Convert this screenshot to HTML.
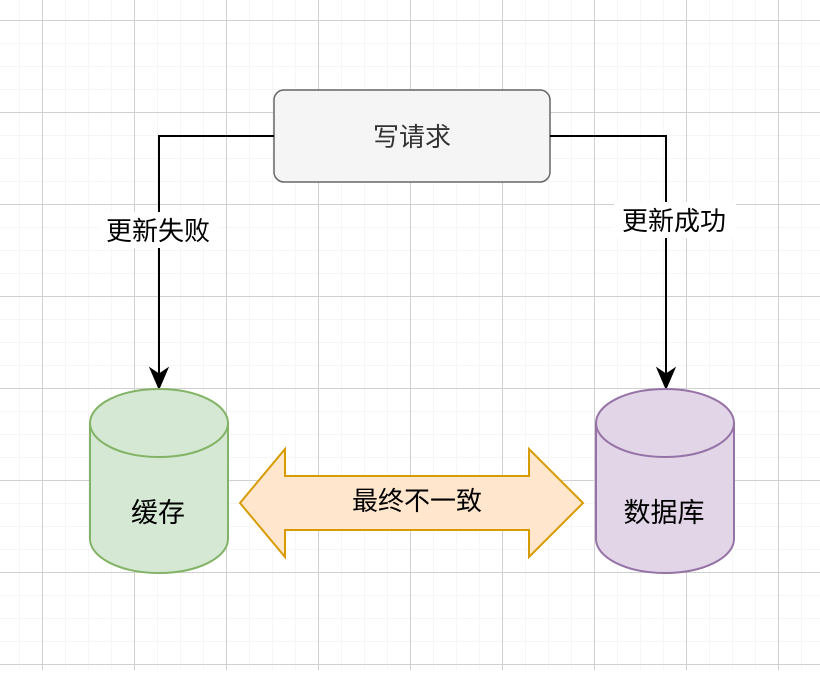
<!DOCTYPE html>
<html><head><meta charset="utf-8"><style>
html,body{margin:0;padding:0;background:#fff}
svg text{font-family:"Liberation Sans","Noto Sans CJK SC",sans-serif;}
</style></head><body>
<svg width="820" height="670" xmlns="http://www.w3.org/2000/svg">
<defs>
<pattern id="minor" x="19" y="20" width="23" height="23" patternUnits="userSpaceOnUse">
<path d="M0 0H23M0 0V23" stroke="#ececec" stroke-width="1" fill="none"/>
</pattern>
<pattern id="major" x="42" y="20" width="92" height="92" patternUnits="userSpaceOnUse">
<path d="M0 0.5H92M0.5 0V92" stroke="#d0d0d0" stroke-width="1" fill="none"/>
</pattern>
</defs>
<rect width="820" height="670" fill="url(#minor)"/>
<rect width="820" height="670" fill="url(#major)"/>

<rect x="274" y="90" width="276" height="92" rx="10" fill="#f5f5f5" stroke="#666" stroke-width="1.5"/>
<text x="412" y="146" font-size="26" text-anchor="middle" fill="#333">写请求</text>

<path d="M274 136H159V378" stroke="#000" stroke-width="2" fill="none"/>
<path d="M150 368L159 389L168 368L159 374Z" fill="#000" stroke="#000"/>
<path d="M550 136H666V378" stroke="#000" stroke-width="2" fill="none"/>
<path d="M657 368L666 389L675 368L666 374Z" fill="#000" stroke="#000"/>

<rect x="98" y="212" width="122" height="36" fill="#fff"/>
<text x="158" y="240" font-size="26" text-anchor="middle" fill="#000">更新失败</text>
<rect x="614" y="202" width="122" height="36" fill="#fff"/>
<text x="674" y="230" font-size="26" text-anchor="middle" fill="#000">更新成功</text>

<path d="M90 423V539A69 34 0 0 0 228 539V423A69 34 0 0 0 90 423Z" fill="#d5e8d4" stroke="#82b366" stroke-width="2"/>
<path d="M90 423A69 34 0 0 0 228 423" fill="none" stroke="#82b366" stroke-width="2"/>
<text x="158" y="522" font-size="27" text-anchor="middle" fill="#000">缓存</text>

<path d="M596 423V539A69 34 0 0 0 734 539V423A69 34 0 0 0 596 423Z" fill="#e1d5e7" stroke="#9673a6" stroke-width="2"/>
<path d="M596 423A69 34 0 0 0 734 423" fill="none" stroke="#9673a6" stroke-width="2"/>
<text x="664" y="522" font-size="27" text-anchor="middle" fill="#000">数据库</text>

<path d="M240 503L285 449V476H529V449L583 503L529 557V530H285V557Z" fill="#ffe6cc" stroke="#d79b00" stroke-width="2"/>
<text x="417" y="510" font-size="26" text-anchor="middle" fill="#000">最终不一致</text>
</svg>
</body></html>
